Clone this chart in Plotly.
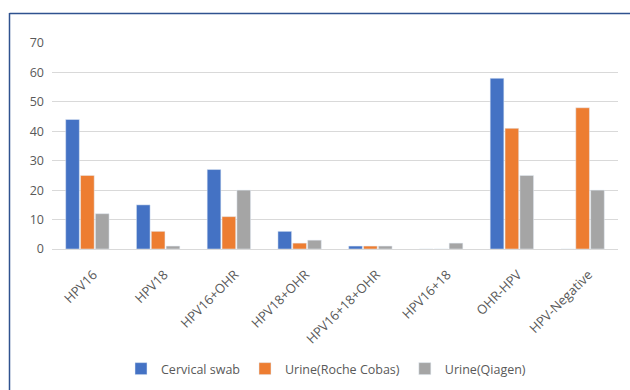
import plotly.graph_objects as go

categories = ["HPV16", "HPV18", "HPV16+OHR", "HPV18+OHR", "HPV16+18+OHR", "HPV16+18", "OHR-HPV", "HPV-Negative"]
cervical_swab = [44, 15, 27, 6, 1, 0, 58, 0]
urine_roche = [25, 6, 11, 2, 1, 0, 41, 48]
urine_qiagen = [12, 1, 20, 3, 1, 2, 25, 20]
y_ticks = [0, 10, 20, 30, 40, 50, 60, 70]

W, H = 630, 390
L, R, T, B = 52, 12, 43, 141
pw, ph = W - L - R, H - T - B

def px_x(x):
    return (x - L) / pw

def px_y(y):
    return (H - B - y) / ph

font = "Open Sans"
fig = go.Figure()
fig.add_bar(name="Cervical swab", x=categories, y=cervical_swab, marker_color="#4472C4")
fig.add_bar(name="Urine(Roche Cobas)", x=categories, y=urine_roche, marker_color="#ED7D31")
fig.add_bar(name="Urine(Qiagen)", x=categories, y=urine_qiagen, marker_color="#A5A5A5")

fig.update_layout(
    width=W, height=H,
    margin=dict(l=L, r=R, t=T, b=B, autoexpand=False),
    paper_bgcolor="white", plot_bgcolor="white",
    barmode="group", bargap=0.37, bargroupgap=0.08,
    font=dict(family=font, size=12, color="#595959"),
    showlegend=True,
    legend=dict(orientation="h", x=px_x(326), y=px_y(369), xanchor="center", yanchor="middle",
                font=dict(size=12.5, color="#595959"), itemwidth=30, tracegroupgap=0,
                bgcolor="rgba(0,0,0,0)"),
    xaxis=dict(tickangle=-45, showgrid=False, showline=True, linecolor="#D9D9D9", linewidth=1,
               tickfont=dict(size=13, color="#595959"), ticks="", ticklabelstandoff=12,
               ticklabelshift=6, automargin=False),
    yaxis=dict(range=[0, 70], tickvals=y_ticks, showgrid=True, gridcolor="#D9D9D9", gridwidth=1,
               zeroline=False, showline=False, tickfont=dict(size=12.5, color="#595959"), ticks="",
               ticklabelstandoff=7, automargin=False),
    shapes=[
        dict(type="line", xref="paper", yref="paper", x0=px_x(9.5), x1=px_x(9.5), y0=px_y(13), y1=px_y(400),
             line=dict(color="#2F528F", width=1.5)),
        dict(type="line", xref="paper", yref="paper", x0=px_x(9.5), x1=px_x(640), y0=px_y(13.5), y1=px_y(13.5),
             line=dict(color="#2F528F", width=1.5)),
    ],
)
fig.write_html("out.html")
